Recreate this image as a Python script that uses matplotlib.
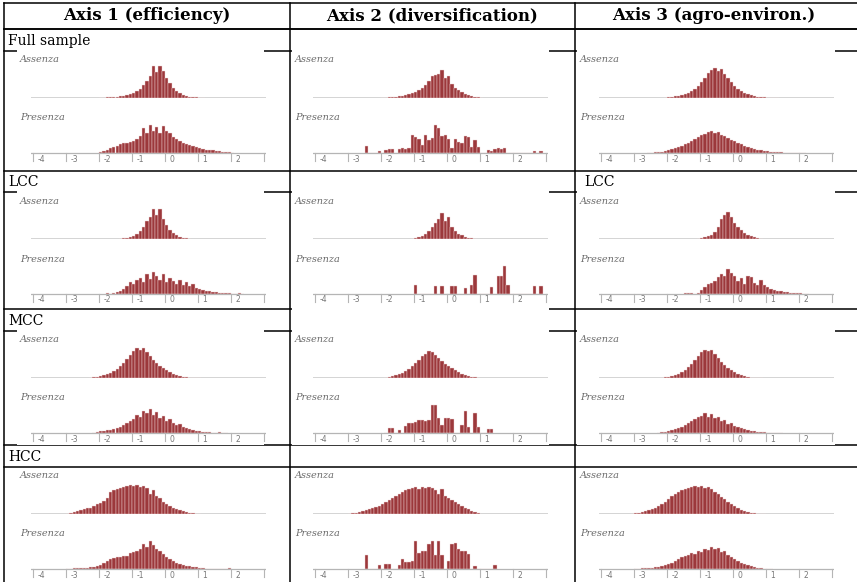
import numpy as np
import matplotlib
matplotlib.use("Agg")
import matplotlib.pyplot as plt
from matplotlib.patches import Rectangle

# column headers and row labels
col_titles = ["Axis 1 (efficiency)", "Axis 2 (diversification)", "Axis 3 (agro-environ.)"]
row_names = ["Full sample", "LCC", "MCC", "HCC"]
tick_vals = [-4, -3, -2, -1, 0, 1, 2, 3]
tick_text = ["-4", "-3", "-2", "-1", "0", "1", "2", ""]
bin_w = 0.1

# (first bin edge, bar heights)  -- Axis 1 (efficiency)
eff_full_ass = (-2.0, [0.5, 0.5, 1, 1, 1, 1.5, 2, 2, 3, 4, 5, 7, 9, 13, 17, 22, 32, 26, 32, 27,
                       20, 15, 10, 7, 5, 3, 2, 1.5, 1, 1, 0.5, 0.5])
eff_full_pre = (-2.0, [1, 2, 3, 5, 6, 7, 9, 10, 10, 11, 12, 14, 17, 25, 20, 28, 22, 26, 20, 27,
                       22, 20, 16, 14, 12, 10, 9, 8, 7, 6, 5, 4, 3, 3, 3, 2, 2, 1, 1, 1.5, 0.5])
eff_lcc_ass = (-1.4, [0.5, 1, 1, 2, 3, 5, 8, 12, 18, 22, 30, 24, 30, 20, 14, 9, 6, 4, 2, 1, 1, 0.5])
eff_lcc_pre = (-1.8, [1, 0, 1, 2, 3, 5, 8, 12, 10, 14, 16, 12, 20, 15, 22, 18, 14, 20, 12, 16,
                      13, 10, 14, 9, 12, 8, 10, 6, 5, 4, 3, 3, 2, 2, 1, 1, 1, 1, 0.5, 0.5, 1, 0.5])
eff_mcc_ass = (-2.3, [0.5, 1, 1.5, 2, 3, 4, 5, 7, 9, 12, 15, 19, 23, 27, 30, 28, 30, 26, 22, 18,
                      15, 12, 10, 8, 6, 4, 3, 2, 1.5, 1, 0.5, 0.5, 0.5, 0.5])
eff_mcc_pre = (-2.2, [0.5, 1, 2, 2, 3, 3, 4, 5, 6, 8, 10, 12, 14, 18, 16, 22, 20, 24, 18, 21,
                      15, 17, 12, 14, 10, 8, 9, 6, 5, 4, 3, 2, 2, 1, 1.5, 1, 0.5, 0.5, 1, 0, 0.5])
eff_hcc_ass = (-3.0, [0.5, 1, 2, 3, 4, 5, 6, 6, 8, 10, 11, 13, 16, 22, 24, 25, 26, 27, 28, 29,
                      28, 29, 27, 28, 26, 20, 24, 18, 16, 12, 10, 8, 6, 5, 4, 3, 2, 1.5, 1, 0.5, 0.5])
eff_hcc_pre = (-3.0, [0.5, 0.5, 1, 1, 1, 1, 1.5, 2, 2, 3, 4, 6, 8, 10, 11, 12, 12, 13, 13, 16,
                      17, 18, 20, 25, 22, 28, 24, 20, 18, 15, 12, 10, 8, 6, 5, 4, 3, 3, 2, 2,
                      1, 1, 0.5, 0.5, 0, 0, 0, 0, 0.5, 1])

# Axis 2 (diversification)
div_full_ass = (-2.0, [0.5, 0.5, 1, 1, 1.5, 2, 2.5, 3, 4, 5, 6, 8, 10, 13, 17, 22, 23, 24, 28, 20,
                       22, 14, 10, 8, 6, 4, 3, 2, 1.5, 1, 0.5])
div_full_pre = (-2.5, [7, 0, 0, 0, 2, 0, 3, 4, 4, 0, 4, 5, 4, 5, 18, 16, 14, 8, 18, 13,
                       15, 28, 25, 17, 18, 14, 5, 14, 11, 10, 17, 16, 6, 13, 6, 0, 0, 3, 2, 4,
                       5, 4, 5, 0, 0, 0, 0, 0, 0, 0, 0, 2, 0, 2])
div_lcc_ass = (-1.1, [0.5, 1, 2, 3, 5, 8, 12, 16, 20, 26, 18, 22, 12, 8, 5, 4, 2, 1.5, 1, 0.5])
div_lcc_pre = (-1.0, [9, 0, 0, 0, 0, 0, 8, 0, 8, 0, 0, 8, 8, 0, 0, 6, 0, 9, 19, 0,
                      0, 0, 0, 7, 0, 18, 18, 28, 9, 0, 0, 0, 0, 0, 0, 0, 8, 0, 8])
div_mcc_ass = (-1.9, [0.5, 1, 2, 3, 4, 5, 7, 9, 12, 15, 18, 22, 24, 27, 26, 23, 20, 17, 14, 12,
                      10, 8, 6, 4, 3, 2, 1.5, 1, 0.5])
div_mcc_pre = (-1.9, [0, 5, 5, 0, 3, 0, 7, 10, 10, 11, 13, 13, 12, 13, 28, 28, 15, 8, 15, 15,
                      14, 0, 0, 8, 22, 6, 0, 20, 6, 0, 0, 4, 4])
div_hcc_ass = (-3.0, [0.5, 1, 1, 2, 3, 4, 5, 6, 7, 8, 10, 12, 14, 16, 18, 20, 22, 24, 25, 26,
                      27, 25, 27, 26, 27, 26, 24, 20, 25, 18, 16, 14, 12, 10, 8, 6, 5, 3, 2, 1])
div_hcc_pre = (-2.5, [14, 0, 0, 0, 4, 0, 5, 5, 0, 0, 4, 10, 7, 7, 8, 28, 16, 18, 18, 25,
                      28, 14, 28, 14, 0, 8, 25, 26, 20, 18, 18, 15, 0, 3, 0, 0, 0, 0, 0, 4])

# Axis 3 (agro-environ.)
agr_full_ass = (-2.1, [0.5, 1, 1.5, 2, 2.5, 3, 4, 5, 7, 9, 12, 16, 20, 25, 28, 30, 27, 29, 24, 20,
                       16, 12, 9, 7, 5, 4, 3, 2, 1.5, 1, 1, 0.5, 0.5, 0.5, 0.5])
agr_full_pre = (-2.6, [0.5, 0.5, 1, 1, 1.5, 2, 3, 4, 5, 6, 7, 9, 10, 12, 14, 16, 18, 19, 21, 22,
                       20, 21, 18, 17, 15, 13, 12, 10, 9, 7, 6, 5, 4, 3, 3, 2, 2, 1.5, 1, 1,
                       1, 0.5, 0.5, 0.5, 0.5, 0.5, 0.5, 0.5])
agr_lcc_ass = (-1.1, [0.5, 1, 2, 3, 4, 7, 12, 20, 24, 27, 22, 16, 12, 9, 6, 4, 3, 2, 1, 0.5])
agr_lcc_pre = (-1.5, [1, 1, 1, 0.5, 1, 4, 7, 10, 11, 13, 17, 20, 18, 25, 21, 18, 13, 16, 10, 18,
                      17, 11, 9, 14, 9, 7, 5, 4, 3, 3, 2, 2, 1.5, 1.5, 1, 1, 0.5, 0.5])
agr_mcc_ass = (-2.2, [0.5, 1, 1.5, 2, 3, 4, 6, 8, 11, 14, 18, 22, 26, 28, 27, 28, 24, 20, 16, 13,
                      10, 8, 6, 4, 3, 2, 1, 0.5, 0.5, 0.5, 0.5])
agr_mcc_pre = (-2.3, [0.5, 1, 1, 2, 3, 4, 5, 6, 8, 10, 12, 14, 16, 17, 20, 16, 19, 15, 16, 12,
                      13, 9, 10, 7, 6, 5, 4, 3, 2, 2, 1.5, 1, 1, 0.5, 0.5, 0.5, 0.5, 0.5])
agr_hcc_ass = (-3.1, [0.5, 1, 1.5, 2, 3, 4, 5, 6, 8, 10, 12, 15, 18, 20, 22, 24, 25, 26, 27, 28,
                      27, 28, 26, 27, 25, 22, 20, 17, 15, 12, 10, 8, 6, 4, 3, 2, 1.5, 1, 0.5, 0.5, 0.5])
agr_hcc_pre = (-3.0, [0.5, 0.5, 1, 1, 1, 1.5, 2, 2, 3, 4, 5, 6, 8, 10, 12, 13, 14, 16, 15, 18,
                      17, 20, 19, 22, 20, 21, 17, 18, 14, 12, 10, 8, 6, 5, 4, 3, 2, 1.5, 1, 0.5,
                      0.5, 0.5])

panels = [
    [(eff_full_ass, eff_full_pre), (div_full_ass, div_full_pre), (agr_full_ass, agr_full_pre)],
    [(eff_lcc_ass, eff_lcc_pre), (div_lcc_ass, div_lcc_pre), (agr_lcc_ass, agr_lcc_pre)],
    [(eff_mcc_ass, eff_mcc_pre), (div_mcc_ass, div_mcc_pre), (agr_mcc_ass, agr_mcc_pre)],
    [(eff_hcc_ass, eff_hcc_pre), (div_hcc_ass, div_hcc_pre), (agr_hcc_ass, agr_hcc_pre)],
]

# layout in pixels
W, H = 857, 582
col_x = [4, 290, 575]
col_right = 857
label_top = [29, 171, 309, 445]
label_bot = [51, 192, 331, 467]
img_x = [(17, 264), (292, 549), (577, 835)]
tick0_x = [33, 315, 601]     # pixel position of the -4 tick in each column
px_unit = 33.0

BAR = "#9c383b"
EDGE = "#efd6d6"
SERIF = "DejaVu Serif"

fig = plt.figure(figsize=(W / 100, H / 100), dpi=100)
bg = fig.add_axes([0, 0, 1, 1])
bg.set_xlim(0, W)
bg.set_ylim(H, 0)
bg.axis("off")


def px_axes(x, y, w, h):
    return fig.add_axes([x / W, 1 - (y + h) / H, w / W, h / H])


# table grid
lw = 1.1
bg.plot([4, col_right], [3, 3], color="black", lw=lw, zorder=2)
bg.plot([4, col_right], [29, 29], color="black", lw=lw, zorder=2)
for x in col_x:
    bg.plot([x, x], [3, H], color="black", lw=lw, zorder=2)
for r in range(4):
    bg.plot([4, col_right], [label_top[r], label_top[r]], color="black", lw=lw, zorder=2)
    bg.plot([4, col_right], [label_bot[r], label_bot[r]], color="black", lw=lw, zorder=2)

# header texts
for c, title in enumerate(col_titles):
    cx = (col_x[c] + (col_x[c + 1] if c < 2 else 853)) / 2
    bg.text(cx, 16, title, ha="center", va="center", fontsize=12, fontweight="bold",
            family=SERIF, zorder=6)

# row labels
for r, name in enumerate(row_names):
    bg.text(8, (label_top[r] + label_bot[r]) / 2 + 1, name, ha="left", va="center",
            fontsize=10, family=SERIF, zorder=6)
bg.text(584, (label_top[1] + label_bot[1]) / 2 + 1, row_names[1], ha="left", va="center",
        fontsize=10, family=SERIF, zorder=6)

for r in range(4):
    L = label_bot[r]
    for c in range(3):
        ix0, ix1 = img_x[c]
        top = L + 2 if r == 3 else L - 7
        bottom = min(L + (120 if (r, c) == (1, 1) else 114), H)
        bg.add_patch(Rectangle((ix0, top), ix1 - ix0, bottom - top, facecolor="white",
                               edgecolor="none", zorder=3))
        bg.text(ix0 + 3, L + 9, "Assenza", ha="left", va="center", fontsize=7,
                style="italic", family=SERIF, color="#6a6a6a", zorder=6)
        bg.text(ix0 + 3, L + 67, "Presenza", ha="left", va="center", fontsize=7,
                style="italic", family=SERIF, color="#6a6a6a", zorder=6)

        left = tick0_x[c] - 0.05 * px_unit
        width = 7.1 * px_unit
        ass, pre = panels[r][c]

        ax_a = px_axes(left, L + 11, width, 36)
        ax_a.set_xlim(-4.05, 3.05)
        ax_a.set_ylim(0, 36)
        ax_a.axis("off")
        ax_a.axhline(0, color="#d0d0d0", lw=2, zorder=1)
        start, h = ass
        ax_a.bar(start + bin_w * np.arange(len(h)), h, width=bin_w, align="edge",
                 color=BAR, edgecolor=EDGE, linewidth=0.3, zorder=2)

        ax_p = px_axes(left, L + 66, width, 50)
        ax_p.set_xlim(-4.05, 3.05)
        ax_p.set_ylim(-14, 36)
        ax_p.axis("off")
        start, h = pre
        ax_p.bar(start + bin_w * np.arange(len(h)), h, width=bin_w, align="edge",
                 color=BAR, edgecolor=EDGE, linewidth=0.3, zorder=2)
        ax_p.axhline(0, color="#b5b5b5", lw=0.9, zorder=3)
        for t, lab in zip(tick_vals, tick_text):
            ax_p.plot([t, t], [0, -8], color="#b5b5b5", lw=0.8)
            ax_p.text(t + 0.13, -6, lab, ha="left", va="center", fontsize=5.5,
                      color="#777777")

fig.savefig("out.png", dpi=100)
